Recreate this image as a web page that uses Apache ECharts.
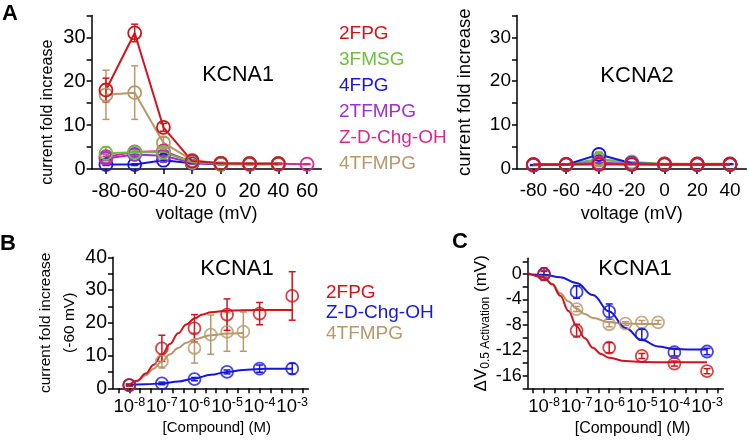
<!DOCTYPE html>
<html><head><meta charset="utf-8">
<script src="https://cdn.jsdelivr.net/npm/echarts@6/dist/echarts.min.js"></script>
<style>html,body{margin:0;padding:0;background:#fff}#c{width:749px;height:440px}</style>
</head><body><div id="c"></div>
<script>
// ---------- DATA ----------
const compoundsA = ['2FPG','3FMSG','4FPG','2TFMPG','Z-D-Chg-OH','4TFMPG'];
const compoundsB = ['2FPG','Z-D-Chg-OH','4TFMPG'];
const voltsA1 = [-80,-60,-40,-20,0,20,40,60];
const voltsA2 = [-80,-60,-40,-20,0,20,40];
const voltTicksA1 = [-80,-60,-40,-20,0,20,40,60];
const voltTicksA2 = [-80,-60,-40,-20,0,20,40];
const foldTicks = [0,5,10,15,20,25,30,35];
const foldLabels = [0,10,20,30];
const foldBTicks = [0,5,10,15,20,25,30,35,40];
const foldBLabels = [0,10,20,30,40];
const dvTicks = [-18,-16,-14,-12,-10,-8,-6,-4,-2,0,2];
const dvLabels = [-16,-12,-8,-4,0];
const logTicks = [-8.333,-8,-7.667,-7.333,-7,-6.667,-6.333,-6,-5.667,-5.333,-5,-4.667,-4.333,-4,-3.667,-3.333,-3,-2.667];
const logLabels = [-8,-7,-6,-5,-4,-3];

// Panel A, KCNA1 (current fold increase vs voltage)
const a1_2FPG   = [18.0, 31.0, 9.5, 1.8, 1.3, 1.2, 1.2];
const a1_2FPG_e = [2.7, 2.0, 0.9, 0.3, 0.2, 0.1, 0.1];
const a1_3FMSG   = [3.6, 3.8, 3.8, 1.6, 1.2, 1.2, 1.2];
const a1_3FMSG_e = [1.5, 0.5, 0.6, 0.2, 0.1, 0.1, 0.1];
const a1_4FPG   = [1.0, 1.0, 2.0, 1.3, 1.1, 1.1, 1.1];
const a1_4FPG_e = [0.2, 0.2, 0.4, 0.1, 0.1, 0.1, 0.1];
const a1_2TFMPG   = [2.4, 3.3, 3.0, 1.4, 1.2, 1.2, 1.2];
const a1_2TFMPG_e = [0.5, 0.5, 0.5, 0.2, 0.1, 0.1, 0.1];
const a1_ZDChg   = [2.8, 3.9, 4.1, 1.6, 1.2, 1.2, 1.2, 1.1];
const a1_ZDChg_e = [0.6, 0.6, 0.6, 0.2, 0.1, 0.1, 0.1, 0.1];
const a1_4TFMPG   = [16.9, 17.4, 6.0, 2.0, 1.3, 1.2, 1.2];
const a1_4TFMPG_e = [5.6, 6.1, 1.2, 0.3, 0.1, 0.1, 0.1];

// Panel A, KCNA2
const a2_2FPG   = [1.0, 1.0, 1.0, 1.0, 1.0, 1.0, 1.0];
const a2_3FMSG  = [1.0, 1.1, 2.3, 1.5, 1.1, 1.1, 1.1];
const a2_4FPG   = [0.9, 1.0, 3.3, 1.3, 1.1, 1.1, 1.1];
const a2_4FPG_e = [0.1, 0.1, 0.5, 0.2, 0.1, 0.1, 0.1];
const a2_2TFMPG = [0.9, 1.0, 1.4, 1.2, 1.0, 1.0, 1.0];
const a2_ZDChg  = [1.0, 1.0, 1.2, 1.1, 1.0, 1.0, 1.0];
const a2_4TFMPG = [1.0, 1.0, 2.0, 1.6, 1.2, 1.2, 1.2];

// Panel B, KCNA1 fold increase at -60 mV vs log10[Compound]
const b_x_2FPG = [-8,-7,-6,-5,-4,-3];
const b_2FPG   = [1.0, 12.2, 18.3, 22.5, 22.8, 28.2];
const b_2FPG_e = [0.3, 4.0, 4.2, 4.8, 3.4, 7.4];
const b_x_ZDChg = [-8,-7,-6,-5,-4,-3];
const b_ZDChg   = [1.0, 1.5, 2.8, 5.0, 6.0, 6.0];
const b_ZDChg_e = [0.2, 0.4, 0.5, 0.6, 1.1, 1.6];
const b_x_4TFMPG = [-8,-7,-6,-5.5,-5,-4.5];
const b_4TFMPG   = [1.0, 8.2, 12.3, 16.4, 17.2, 17.3];
const b_4TFMPG_e = [0.3, 2.0, 4.6, 6.0, 5.9, 6.0];
// fitted curves
const bfit_x_2FPG = [-8,-7.75,-7.5,-7.25,-7,-6.75,-6.5,-6.25,-6,-5.75,-5.5,-5,-4,-3];
const bfit_2FPG   = [1.0,2.3,4.5,7.2,10.3,13.5,16.8,19.5,21.3,22.5,23.2,23.7,23.9,23.9];
const bfit_x_ZDChg = [-8,-7.5,-7,-6.5,-6,-5.5,-5,-4.5,-4,-3.5,-3];
const bfit_ZDChg   = [1.1,1.2,1.5,2.1,3.0,4.1,5.0,5.6,5.9,6.0,6.0];
const bfit_x_4TFMPG = [-8,-7.75,-7.5,-7.25,-7,-6.75,-6.5,-6.25,-6,-5.5,-5,-4.5];
const bfit_4TFMPG   = [1.0,2.2,4.0,6.0,8.2,10.4,12.3,13.9,15.0,16.2,16.7,16.9];

// Panel C, KCNA1 dV0.5 activation vs log10[Compound]
const c_x_2FPG = [-8,-7,-6,-5,-4,-3];
const c_2FPG   = [0.0, -8.9, -11.6, -12.9, -14.1, -15.3];
const c_2FPG_e = [1.0, 1.0, 0.8, 0.4, 0.4, 0.4];
const c_x_ZDChg = [-8,-7,-6,-5,-4,-3];
const c_ZDChg   = [0.0, -2.8, -5.9, -9.5, -12.3, -12.2];
const c_ZDChg_e = [0.5, 1.0, 1.2, 0.8, 0.6, 0.5];
const c_x_4TFMPG = [-8,-7,-6,-5.5,-5,-4.5];
const c_4TFMPG   = [0.0, -5.5, -7.9, -7.8, -7.6, -7.6];
const c_4TFMPG_e = [0.4, 0.4, 0.4, 0.3, 0.3, 0.3];
const cfit_x_2FPG = [-8.5,-8,-7.75,-7.5,-7.25,-7,-6.75,-6.5,-6.25,-6,-5.5,-5,-4,-3];
const cfit_2FPG   = [0.2,-0.5,-1.6,-3.4,-5.8,-8.2,-10.1,-11.6,-12.6,-13.2,-13.7,-13.85,-13.9,-13.9];
const cfit_x_ZDChg = [-8.5,-8,-7.5,-7,-6.5,-6,-5.5,-5,-4.5,-4,-3.5,-3];
const cfit_ZDChg   = [0,-0.1,-0.5,-1.4,-3.3,-5.9,-8.5,-10.4,-11.4,-11.8,-11.9,-11.9];
const cfit_x_4TFMPG = [-8,-7.75,-7.5,-7.25,-7,-6.75,-6.5,-6,-5.5,-5,-4.5];
const cfit_4TFMPG   = [0,-1.5,-3.0,-4.3,-5.4,-6.3,-6.9,-7.6,-7.8,-7.85,-7.85];

// ---------- STYLE ----------
const FONT = "'Liberation Sans', Arial, Helvetica, sans-serif";
const COL_A = {'2FPG':'#d0141c','3FMSG':'#6cbf3f','4FPG':'#1616e0','2TFMPG':'#9c2fd6','Z-D-Chg-OH':'#d42c8e','4TFMPG':'#b8986a'};
const COL_B = {'2FPG':'#d0141c','Z-D-Chg-OH':'#1616e0','4TFMPG':'#b8986a'};
const AX = {onZero:false, lineStyle:{color:'#000', width:1.5}};
const TK = {show:true, inside:false, length:5, lineStyle:{color:'#000', width:1.5}};

function pairs(xs, ys){ return ys.map((y,i)=>[xs[i], y]); }
function errData(xs, ys, es){ return ys.map((y,i)=>[xs[i], y-es[i], y+es[i]]); }
function renderErr(params, api){
  const x = api.value(0), lo = api.value(1), hi = api.value(2);
  const pt = api.coord([x, hi]), pb = api.coord([x, lo]);
  const w = 3.5, st = {stroke: api.visual('color'), lineWidth: 1.5};
  return {type:'group', children:[
    {type:'line', shape:{x1:pt[0], y1:pt[1], x2:pb[0], y2:pb[1]}, style:st},
    {type:'line', shape:{x1:pt[0]-w, y1:pt[1], x2:pt[0]+w, y2:pt[1]}, style:st},
    {type:'line', shape:{x1:pb[0]-w, y1:pb[1], x2:pb[0]+w, y2:pb[1]}, style:st}
  ]};
}
function errSeries(name, col, xs, ys, es, idx){
  return {type:'custom', name, xAxisIndex:idx, yAxisIndex:idx, renderItem:renderErr,
    itemStyle:{color:col}, data:errData(xs, ys, es), encode:{x:0, y:[1,2]}, z:3, silent:true, clip:false};
}
function lineSeries(name, col, xs, ys, idx){
  return {type:'line', name, xAxisIndex:idx, yAxisIndex:idx, data:pairs(xs, ys),
    symbol:'circle', symbolSize: 13,
    itemStyle:{color:'rgba(255,255,255,0)', borderColor:col, borderWidth:1.8},
    lineStyle:{color:col, width:2}, z:4, silent:true};
}
function scatterSeries(name, col, xs, ys, idx){
  return {type:'scatter', name, xAxisIndex:idx, yAxisIndex:idx, data:pairs(xs, ys),
    symbol:'circle', symbolSize:12,
    itemStyle:{color:'rgba(255,255,255,0)', borderColor:col, borderWidth:1.8}, z:5, silent:true};
}
function fitSeries(name, col, xs, ys, idx){
  return {type:'line', name, xAxisIndex:idx, yAxisIndex:idx, data:pairs(xs, ys), symbol:'none',
    smooth:0.4, smoothMonotone:'x', lineStyle:{color:col, width:2}, z:4, silent:true};
}
const supRich = {b:{fontSize:18.5, fontFamily:FONT, color:'#000', lineHeight:22}, s:{fontSize:12.5, fontFamily:FONT, color:'#000', verticalAlign:'top', lineHeight:12}};

function xVolt(gridIndex, min, max, ticks, fs){
  return {type:'value', gridIndex, min, max, name:'voltage (mV)', nameLocation:'middle', nameGap:36,
    nameTextStyle:{fontSize:18, fontFamily:FONT, color:'#000'},
    axisLine:AX, axisTick:Object.assign({customValues:ticks}, TK), splitLine:{show:false},
    axisLabel:{customValues:ticks, fontSize:fs, fontFamily:FONT, color:'#000', margin:12}};
}
function xLog(gridIndex, fs, pad){
  return {type:'value', gridIndex, min:-8.5, max:-2.5, name:'[Compound] (M)', nameLocation:'middle', nameGap:32,
    nameTextStyle:{fontSize:fs, fontFamily:FONT, color:'#000', padding:pad},
    axisLine:AX, axisTick:Object.assign({customValues:logTicks}, TK), splitLine:{show:false},
    axisLabel:{customValues:logLabels, margin:8, formatter:v=>'{b|10}{s|'+v+'}', rich:supRich}};
}
function yAxis(gridIndex, min, max, ticks, labels, name, nameGap, nameStyle, fs){
  return {type:'value', gridIndex, min, max, name, nameLocation:'middle', nameGap,
    nameTextStyle:nameStyle, axisLine:Object.assign({show:true}, AX),
    axisTick:Object.assign({customValues:ticks}, TK), splitLine:{show:false},
    axisLabel:{customValues:labels, fontSize:fs, fontFamily:FONT, color:'#000', margin:6}};
}

const series = [];
// A1
const a1 = {'2FPG':[a1_2FPG,a1_2FPG_e],'3FMSG':[a1_3FMSG,a1_3FMSG_e],'4FPG':[a1_4FPG,a1_4FPG_e],
  '2TFMPG':[a1_2TFMPG,a1_2TFMPG_e],'Z-D-Chg-OH':[a1_ZDChg,a1_ZDChg_e],'4TFMPG':[a1_4TFMPG,a1_4TFMPG_e]};
['4FPG','2TFMPG','Z-D-Chg-OH','3FMSG','4TFMPG','2FPG'].forEach(n=>{
  series.push(errSeries(n, COL_A[n], voltsA1, a1[n][0], a1[n][1], 0));
  series.push(lineSeries(n, COL_A[n], voltsA1, a1[n][0], 0));
});
// A2
const a2 = {'2FPG':a2_2FPG,'3FMSG':a2_3FMSG,'4FPG':a2_4FPG,'2TFMPG':a2_2TFMPG,'Z-D-Chg-OH':a2_ZDChg,'4TFMPG':a2_4TFMPG};
series.push(errSeries('4FPG', COL_A['4FPG'], voltsA2, a2_4FPG, a2_4FPG_e, 1));
['4TFMPG','3FMSG','4FPG','2TFMPG','Z-D-Chg-OH','2FPG'].forEach(n=>{
  series.push(lineSeries(n, COL_A[n], voltsA2, a2[n], 1));
});
// B and C
const bSets = {'2FPG':[b_x_2FPG,b_2FPG,b_2FPG_e,bfit_x_2FPG,bfit_2FPG],
  'Z-D-Chg-OH':[b_x_ZDChg,b_ZDChg,b_ZDChg_e,bfit_x_ZDChg,bfit_ZDChg],
  '4TFMPG':[b_x_4TFMPG,b_4TFMPG,b_4TFMPG_e,bfit_x_4TFMPG,bfit_4TFMPG]};
const cSets = {'2FPG':[c_x_2FPG,c_2FPG,c_2FPG_e,cfit_x_2FPG,cfit_2FPG],
  'Z-D-Chg-OH':[c_x_ZDChg,c_ZDChg,c_ZDChg_e,cfit_x_ZDChg,cfit_ZDChg],
  '4TFMPG':[c_x_4TFMPG,c_4TFMPG,c_4TFMPG_e,cfit_x_4TFMPG,cfit_4TFMPG]};
[[bSets,2],[cSets,3]].forEach(([sets, idx])=>{
  ['4TFMPG','Z-D-Chg-OH','2FPG'].forEach(n=>{
    const s = sets[n], col = COL_B[n];
    series.push(fitSeries(n, col, s[3], s[4], idx));
    series.push(errSeries(n, col, s[0], s[1], s[2], idx));
    series.push(scatterSeries(n, col, s[0], s[1], idx));
  });
});

const option = {
  animation:false,
  backgroundColor:'#fff',
  grid:[
    {left:91.6, top:15.4, width:229.8, height:153.6},
    {left:517, top:15.4, width:229.4, height:153.6},
    {left:113, top:257.3, width:195.5, height:131},
    {left:527.7, top:258.3, width:195.6, height:130}
  ],
  xAxis:[ xVolt(0,-90,70,voltTicksA1,20), xVolt(1,-90,50,voltTicksA2,19), xLog(2,15,[0,0,0,12]), xLog(3,16,[0,0,0,14]) ],
  yAxis:[
    yAxis(0,0,35,foldTicks,foldLabels,'current fold increase',36,{fontSize:16, fontFamily:FONT, color:'#000', padding:[0,40,0,0]},20),
    yAxis(1,0,35,foldTicks,foldLabels,'current fold increase',43,{fontSize:18.5, fontFamily:FONT, color:'#000'},19),
    yAxis(2,0,40,foldBTicks,foldBLabels,'current fold increase\n(-60 mV)',28,{fontSize:15.5, fontFamily:FONT, color:'#000', lineHeight:24},19.5),
    yAxis(3,-18,2.5,dvTicks,dvLabels,'{n|ΔV}{sub|0.5 Activation}{n| (mV)}',30,{
      rich:{n:{fontSize:17, fontFamily:FONT, color:'#000', lineHeight:20}, sub:{fontSize:12, fontFamily:FONT, color:'#000', verticalAlign:'bottom', lineHeight:12}}
    },18)
  ],
  legend:[
    {orient:'vertical', left:329, top:16, icon:'none', itemWidth:0, itemHeight:0, itemGap:0, selectedMode:false,
     textStyle:{fontSize:19, fontFamily:FONT, lineHeight:26},
     data:compoundsA.map(n=>({name:n, textStyle:{color:COL_A[n]}}))},
    {orient:'vertical', left:316, top:277.5, icon:'none', itemWidth:0, itemHeight:0, itemGap:0, selectedMode:false,
     textStyle:{fontSize:19, fontFamily:FONT, lineHeight:20.5},
     data:compoundsB.map(n=>({name:n, textStyle:{color:COL_B[n]}}))}
  ],
  graphic:[
    {type:'text', left:2, top:3, style:{text:'A', font:"bold 22px "+FONT, fill:'#000'}},
    {type:'text', left:0, top:233, style:{text:'B', font:"bold 22px "+FONT, fill:'#000'}},
    {type:'text', left:452, top:231, style:{text:'C', font:"bold 22px "+FONT, fill:'#000'}},
    {type:'text', x:238, y:75, style:{text:'KCNA1', font:"21.5px "+FONT, fill:'#000', align:'center', verticalAlign:'middle'}},
    {type:'text', x:637, y:76, style:{text:'KCNA2', font:"22px "+FONT, fill:'#000', align:'center', verticalAlign:'middle'}},
    {type:'text', x:237, y:269, style:{text:'KCNA1', font:"22px "+FONT, fill:'#000', align:'center', verticalAlign:'middle'}},
    {type:'text', x:635, y:269, style:{text:'KCNA1', font:"22px "+FONT, fill:'#000', align:'center', verticalAlign:'middle'}}
  ],
  series
};
const chart = echarts.init(document.getElementById('c'), null, {renderer:'canvas'});
chart.setOption(option);
</script>
</body></html>
